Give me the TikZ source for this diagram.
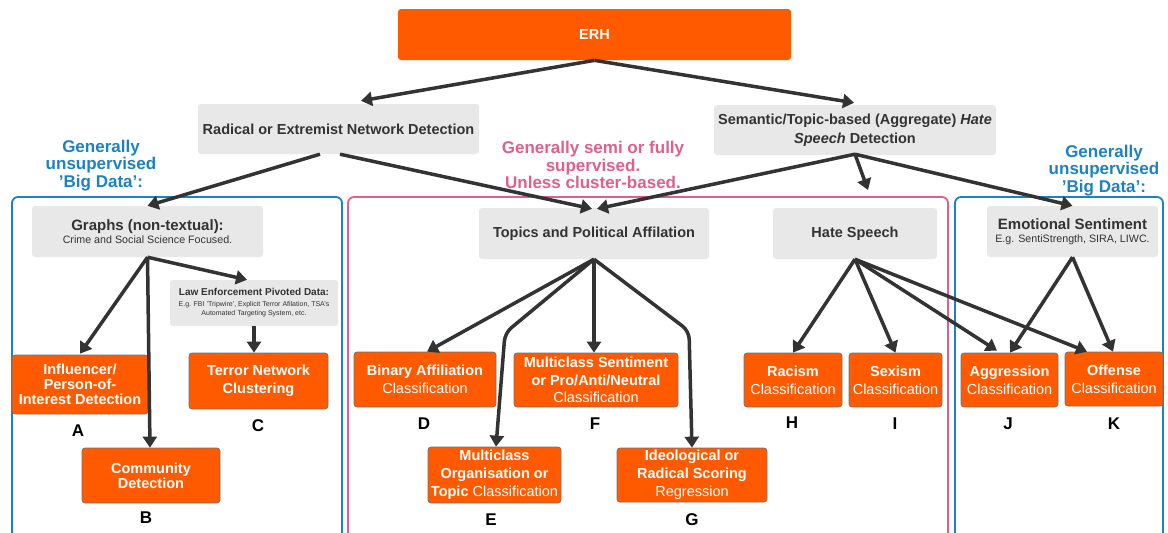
\documentclass[tikz,border=0pt]{standalone}
\usepackage{fontspec}
\setmainfont{Liberation Sans}
\usetikzlibrary{arrows.meta,calc}
\definecolor{orng}{HTML}{FF5A00}
\definecolor{lgray}{HTML}{E8E8E8}
\definecolor{txt}{HTML}{333333}
\definecolor{arrc}{HTML}{333333}
\definecolor{blu}{HTML}{1B82C4}
\definecolor{pnk}{HTML}{E0608A}
\tikzset{
  obox/.style={fill=orng, draw=black!55, line width=0.7pt, rounded corners=3pt, text=white, align=center, inner sep=0pt, font=\fontsize{14.5}{18}\selectfont\bfseries},
  gbox/.style={fill=lgray, rounded corners=3pt, text=txt, align=center, inner sep=0pt, font=\fontsize{14.5}{19}\selectfont\bfseries},
  grp/.style={line width=1.8pt, rounded corners=6pt},
  lbl/.style={font=\fontsize{17}{17}\selectfont\bfseries, text=black, inner sep=0pt},
  grplbl/.style={font=\fontsize{17}{17.5}\selectfont\bfseries, align=center, inner sep=0pt},
  arr/.style={draw=arrc, line width=3.5pt, line join=round, -{Triangle[length=11pt,width=14pt]}},
}
\begin{document}
\begin{tikzpicture}[x=1pt,y=-1pt]
\useasboundingbox (0,0) rectangle (1168,533);
% group frames
\draw[grp, blu] (12,197) rectangle (342,560);
\draw[grp, pnk] (348,197) rectangle (948,560);
\draw[grp, blu] (955,197) rectangle (1163,560);
% group labels
\node[grplbl, text=blu] (gl1) at (101,165.5) {Generally\\unsupervised\\’Big Data’:};
\node[grplbl, text=pnk] (gl2) at (593,165) {Generally semi or fully\\supervised.\\Unless cluster-based.};
\node[grplbl, text=blu] (gl3) at (1104,170.5) {Generally\\unsupervised\\’Big Data’:};
% top
\node[obox, draw=none, minimum width=393pt, minimum height=51pt, font=\fontsize{14.5}{15}\selectfont\bfseries] (erh) at (594.5,34.5) {ERH};
\node[gbox, minimum width=281pt, minimum height=50pt] (rad) at (338.5,129) {Radical or Extremist Network Detection};
\node[gbox, minimum width=282pt, minimum height=50pt] (sem) at (855,130) {Semantic/Topic-based (Aggregate) \textit{Hate}\\\textit{Speech} Detection};
% second level
\node[gbox, minimum width=231pt, minimum height=51pt, font=\fontsize{10.7}{12.5}\selectfont] (graphs) at (147.5,231.5) {\fontsize{15}{13}\selectfont\bfseries Graphs (non-textual):\\Crime and Social Science Focused.};
\node[gbox, minimum width=168pt, minimum height=46pt, font=\fontsize{7}{9}\selectfont] (law) at (254,303) {\fontsize{10}{11}\selectfont\bfseries Law Enforcement Pivoted Data:\\[2pt]E.g. FBI 'Tripwire', Explicit Terror Afilation, TSA's\\Automated Targeting System, etc.};
\node[gbox, minimum width=230pt, minimum height=51pt] (topics) at (594,233.5) {Topics and Political Affilation};
\node[gbox, minimum width=164pt, minimum height=51pt] (hate) at (855,233.5) {Hate Speech};
\node[gbox, minimum width=171pt, minimum height=51pt, font=\fontsize{10.7}{12.5}\selectfont] (emo) at (1072.5,231.5) {\fontsize{15}{13}\selectfont\bfseries Emotional Sentiment\\E.g. SentiStrength, SIRA, LIWC.};
% leaves
\node[obox, minimum width=136pt, minimum height=59pt, font=\fontsize{14.5}{14.7}\selectfont\bfseries] (infl) at (80,384.5) {Influencer/\\Person-of-\\Interest Detection};
\node[obox, minimum width=139pt, minimum height=56pt] (terror) at (258.5,381) {Terror Network\\Clustering};
\node[obox, minimum width=138pt, minimum height=55pt, font=\fontsize{14.5}{14.7}\selectfont\bfseries] (comm) at (151,475.5) {Community\\Detection};
\node[obox, minimum width=142pt, minimum height=55pt] (binary) at (425,379.5) {Binary Affiliation\\\mdseries Classification};
\node[obox, minimum width=164pt, minimum height=54pt, font=\fontsize{14.5}{17.5}\selectfont\bfseries] (msent) at (596,380) {Multiclass Sentiment\\or Pro/Anti/Neutral\\\mdseries Classification};
\node[obox, minimum width=133pt, minimum height=56pt] (morg) at (494.5,475) {Multiclass\\Organisation or\\Topic \mdseries Classification};
\node[obox, minimum width=150pt, minimum height=54pt] (ideo) at (692,475) {Ideological or\\Radical Scoring\\\mdseries Regression};
\node[obox, minimum width=98pt, minimum height=54pt] (racism) at (793,380) {Racism\\\mdseries Classification};
\node[obox, minimum width=93pt, minimum height=54pt] (sexism) at (895.5,380) {Sexism\\\mdseries Classification};
\node[obox, minimum width=97pt, minimum height=54pt] (aggr) at (1009.5,380) {Aggression\\\mdseries Classification};
\node[obox, minimum width=98pt, minimum height=54pt] (off) at (1114,379) {Offense\\\mdseries Classification};
% letters
\node[lbl] (la) at (78,431) {A};
\node[lbl] (lb) at (146,518) {B};
\node[lbl] (lc) at (258,426) {C};
\node[lbl] (ld) at (424,424) {D};
\node[lbl] (le) at (491,520) {E};
\node[lbl] (lf) at (595,424) {F};
\node[lbl] (lg) at (692,520) {G};
\node[lbl] (lh) at (792,423) {H};
\node[lbl] (li) at (895,424) {I};
\node[lbl] (lj) at (1008,424) {J};
\node[lbl] (lk) at (1114,424) {K};
% coordinates
\coordinate (hatetip) at (868,190);
\coordinate (morgbend) at (505,333);
\coordinate (ideobend) at (689,331);
% arrows
\draw[arr] (erh.south) -- ([xshift=22.5pt,yshift=3pt]rad.north);
\draw[arr] (erh.south) -- ([xshift=-1pt,yshift=2pt]sem.north);
\draw[arr] ([xshift=-18.5pt]rad.south) -- (graphs.north);
\draw[arr] ([xshift=1.5pt]rad.south) -- ([xshift=-2pt,yshift=-1pt]topics.north);
\draw[arr] ([yshift=1pt]sem.south) -- ([xshift=3pt,yshift=-1pt]topics.north);
\draw[arr] ([yshift=1pt]sem.south) -- (hatetip);
\draw[arr] ([yshift=1pt]sem.south) -- (emo.north);
\draw[arr] (graphs.south) -- ([yshift=1pt]infl.north);
\draw[arr] (graphs.south) -- ([xshift=-1pt]comm.north);
\draw[arr] (graphs.south) -- ([xshift=-7pt]law.north);
\draw[arr] (law.south) -- (law.south |- terror.north);
\draw[arr] (topics.south) -- ([xshift=2pt]binary.north);
\draw[arr] (topics.south) -- (topics.south |- msent.north);
\draw[arr, rounded corners=8pt] (topics.south) -- (morgbend) -- ([xshift=1.5pt]morg.north);
\draw[arr, rounded corners=8pt] (topics.south) -- (ideobend) -- (ideo.north);
\draw[arr] (hate.south) -- (racism.north);
\draw[arr] (hate.south) -- (sexism.north);
\draw[arr] (hate.south) -- ([xshift=-12.5pt,yshift=2pt]aggr.north);
\draw[arr] (hate.south) -- ([xshift=-27pt]off.north);
\draw[arr] (emo.south) -- ([xshift=0.5pt]aggr.north);
\draw[arr] (emo.south) -- ([xshift=-1pt]off.north);
\end{tikzpicture}
\end{document}
